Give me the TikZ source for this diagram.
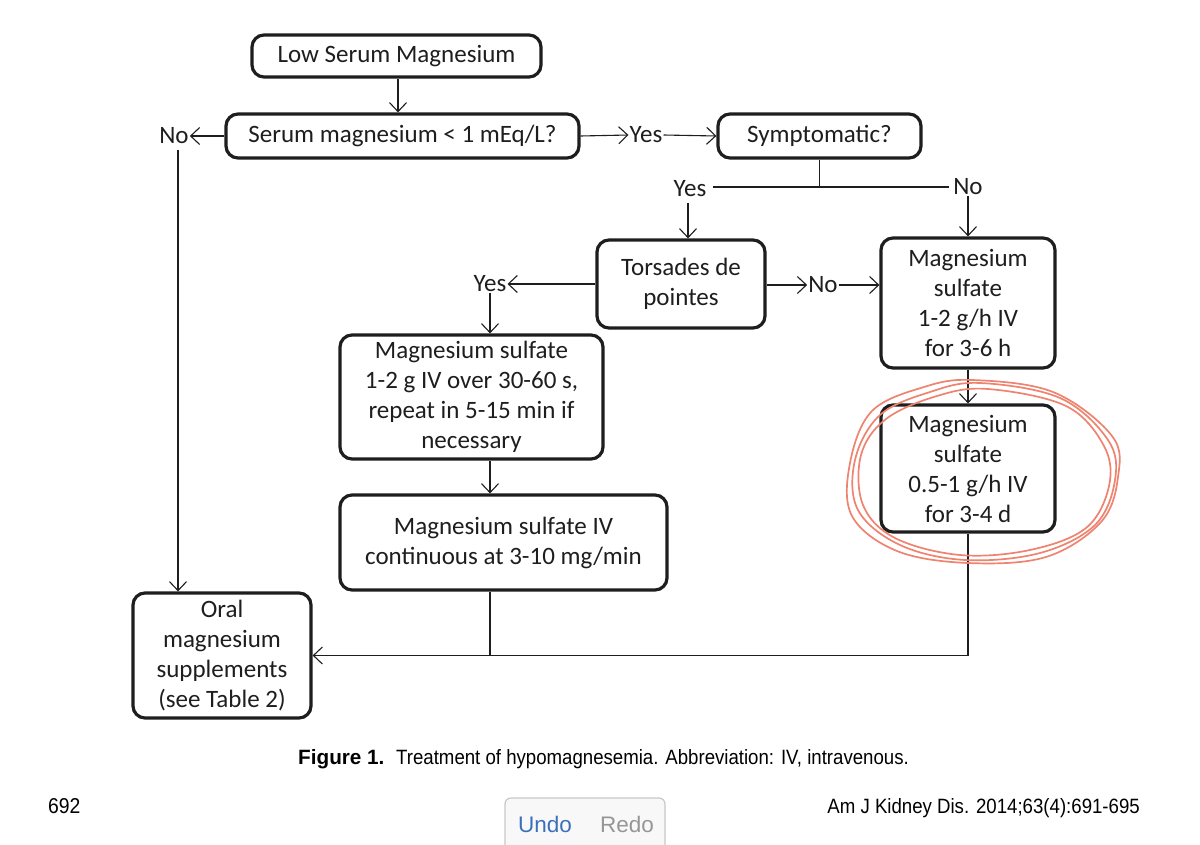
\documentclass[tikz,border=0pt]{standalone}
\usepackage{fontspec}
\setmainfont{Carlito}
\newfontfamily\capfont{Liberation Sans}[FakeStretch=0.9]
\newfontfamily\capbold{Liberation Sans Bold}
\newfontfamily\uifont{Liberation Sans}
\usetikzlibrary{arrows.meta}
\definecolor{ink}{RGB}{30,30,30}
\definecolor{circ}{RGB}{238,132,112}
\definecolor{undoblue}{RGB}{60,110,190}
\definecolor{redogray}{RGB}{150,150,150}
\definecolor{btnborder}{RGB}{200,200,200}
\definecolor{btnfill}{RGB}{248,248,248}
\tikzset{
  box/.style={draw=ink, line width=3.2pt, rounded corners=12pt, align=center, inner sep=2pt,
    font=\fontsize{25}{30}\selectfont, text=ink},
  lbl/.style={inner sep=1pt, font=\fontsize{25}{30}\selectfont, text=ink},
  arr/.style={draw=ink, line width=1.1pt, -{Straight Barb[length=9pt,width=17pt,line width=1.1pt]}},
  ln/.style={draw=ink, line width=1.1pt},
  redring/.style={draw=circ, line width=1.7pt, line join=round},
  captext/.style={anchor=base west, inner sep=0pt, font=\capfont\fontsize{20.7}{24}\selectfont},
  uitext/.style={anchor=base west, inner sep=0pt, font=\uifont\fontsize{22.5}{24}\selectfont},
}
\begin{document}
\begin{tikzpicture}[x=1pt,y=-1pt]
\useasboundingbox[fill=white] (0,0) rectangle (1200,845);

% boxes
\node[box, minimum width=289pt, minimum height=42pt] (n1) at (396.5,56) {Low Serum Magnesium};
\node[box, minimum width=353pt, minimum height=44pt] (n2) at (402.5,136) {Serum magnesium < 1 mEq/L?};
\node[box, minimum width=203pt, minimum height=44pt] (n3) at (819.5,136) {Symptomatic?};
\node[box, minimum width=168pt, minimum height=88pt] (n4) at (681,284) {Torsades de\\pointes};
\node[box, minimum width=174pt, minimum height=130pt] (n5) at (968,303) {Magnesium\\sulfate\\1-2 g/h IV\\for 3-6 h};
\node[box, minimum width=174pt, minimum height=127pt] (n6) at (968,468.5) {Magnesium\\sulfate\\0.5-1 g/h IV\\for 3-4 d};
\node[box, minimum width=263pt, minimum height=124pt] (n7) at (471.5,397) {Magnesium sulfate\\1-2 g IV over 30-60 s,\\repeat in 5-15 min if\\necessary};
\node[box, minimum width=327pt, minimum height=95pt] (n8) at (503.5,542.5) {Magnesium sulfate IV\\continuous at 3-10 mg/min};
\node[box, minimum width=178pt, minimum height=125pt] (n9) at (222,655.5) {Oral\\magnesium\\supplements\\(see Table 2)};

% labels
\node[lbl] (noL) at (174,136) {No};
\node[lbl] (yesT) at (646,135) {Yes};
\node[lbl] (yesS) at (690,189) {Yes};
\node[lbl] (noS) at (968,187) {No};
\node[lbl] (yesTd) at (490,284) {Yes};
\node[lbl] (noTd) at (823,285) {No};

% connectors
\draw[arr] (n1.south -| 398,0) -- (n2.north -| 398,0);
\draw[arr] (n2.west) -- (noL.east);
\draw[arr] (n2.east) -- (yesT.west);
\draw[arr] (yesT.east) -- (n3.west);
\draw[ln] (n3.south) -- (n3.south |- noS.west);
\draw[ln, shorten <=5pt, shorten >=3pt] (yesS.east |- noS.west) -- (noS.west);
\draw[arr] (688,203) -- (n4.north -| 688,0);
\draw[arr] (noS.south) -- (n5.north);
\draw[arr] (n4.west |- yesTd.east) -- (yesTd.east);
\draw[arr] (n4.east |- noTd.west) -- (noTd.west);
\draw[arr] (noTd.east) -- (noTd.east -| n5.west);
\draw[arr] (yesTd.south) -- (yesTd.south |- n7.north);
\draw[arr] (n5.south) -- (n6.north);
\draw[arr] (yesTd.south |- n7.south) -- (yesTd.south |- n8.north);
\draw[ln] (yesTd.south |- n8.south) -- (yesTd.south |- n9.east);
\draw[arr] (n6.south) -- (n6.south |- n9.east) -- (n9.east);
\draw[arr] (178,150) -- (n9.north -| 178,0);

% hand-drawn ring
\draw[redring] plot[smooth cycle, tension=0.6] coordinates {(980,383) (1060,398) (1108,440) (1115,480) (1095,525) (1040,553) (965,560) (900,545) (858,510) (855,460) (880,415) (930,392)};
\draw[redring] plot[smooth cycle, tension=0.6] coordinates {(988,389) (1066,406) (1104,446) (1109,486) (1086,528) (1030,550) (960,555) (895,538) (863,505) (861,455) (886,419) (937,396)};
\draw[redring] plot[smooth cycle, tension=0.6] coordinates {(972,380) (1053,392) (1112,436) (1118,477) (1101,522) (1046,557) (968,563) (897,551) (852,516) (850,463) (872,411) (924,387)};

% caption
\node[anchor=base west, inner sep=0pt, font=\capbold\fontsize{20.7}{24}\selectfont] (capb) at (298,764) {Figure 1.};
\node[captext] (cap) at (396,764) {Treatment of hypomagnesemia. Abbreviation: IV, intravenous.};
\node[captext, font=\capfont\fontsize{21.5}{24}\selectfont] (pg) at (48,813) {692};
\node[captext, anchor=base east] (jr) at (1140,813) {Am J Kidney Dis. 2014;63(4):691-695};

% undo/redo button
\begin{scope}
\clip (0,0) rectangle (1200,845);
\draw[draw=btnborder, fill=btnfill, line width=1.2pt, rounded corners=6pt] (505,798) rectangle (665,870);
\end{scope}
\node[uitext, text=undoblue] (undo) at (518,832) {Undo};
\node[uitext, text=redogray] (redo) at (600,832) {Redo};
\end{tikzpicture}
\end{document}
